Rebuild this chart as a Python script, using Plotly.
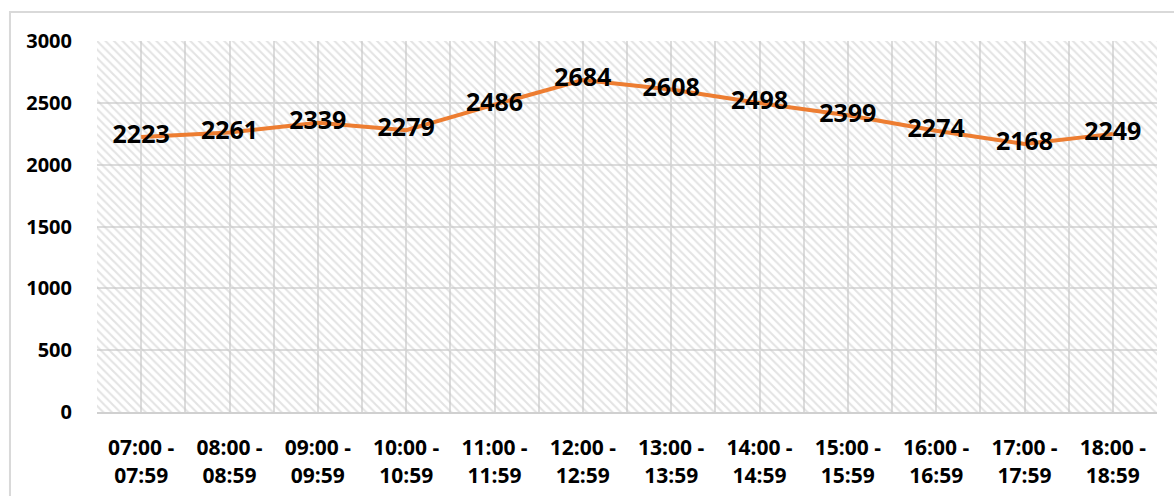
import plotly.graph_objects as go

# Hourly time slots and counts
slots = ["07:00 -<br>07:59", "08:00 -<br>08:59", "09:00 -<br>09:59", "10:00 -<br>10:59",
         "11:00 -<br>11:59", "12:00 -<br>12:59", "13:00 -<br>13:59", "14:00 -<br>14:59",
         "15:00 -<br>15:59", "16:00 -<br>16:59", "17:00 -<br>17:59", "18:00 -<br>18:59"]
counts = [2223, 2261, 2339, 2279, 2486, 2684, 2608, 2498, 2399, 2274, 2168, 2249]
y_ticks = [0, 500, 1000, 1500, 2000, 2500, 3000]

FONT = "Open Sans"
ORANGE = "#ED7D31"
GRID = "#dcdcdc"

xs = list(range(len(slots)))
x_lo, x_hi = -0.5, len(slots) - 0.5
y_lo, y_hi = y_ticks[0], y_ticks[-1]

fig = go.Figure()

# hatched plot-area background
fig.add_trace(go.Scatter(
    x=[x_lo, x_hi, x_hi, x_lo, x_lo],
    y=[y_lo, y_lo, y_hi, y_hi, y_lo],
    mode="none",
    fill="toself",
    fillcolor="rgba(0,0,0,0)",
    fillpattern=dict(shape="\\", fgcolor="#c8c8c8", bgcolor="rgba(0,0,0,0)",
                     size=6, solidity=0.35),
    hoverinfo="skip",
    showlegend=False,
))

# the count line with centred value labels
fig.add_trace(go.Scatter(
    x=xs, y=counts,
    mode="lines+text",
    line=dict(color=ORANGE, width=4),
    text=[str(v) for v in counts],
    textposition="middle center",
    textfont=dict(family=FONT, size=25, color="#000000", weight="bold"),
    showlegend=False,
    cliponaxis=False,
))

fig.update_layout(
    width=1174, height=496,
    margin=dict(l=97, r=17, t=41, b=84),
    paper_bgcolor="white",
    plot_bgcolor="white",
    font=dict(family=FONT, color="#000000"),
    shapes=[dict(type="rect", xref="paper", yref="paper",
                 x0=-0.0821, x1=1.2, y0=-0.4, y1=1.078,
                 line=dict(color="#d9d9d9", width=2), fillcolor="rgba(0,0,0,0)",
                 layer="below")],
)

fig.update_xaxes(
    range=[x_lo, x_hi],
    tickmode="array", tickvals=xs, ticktext=slots,
    tickfont=dict(family=FONT, size=21, weight="bold", color="#000000"),
    showgrid=True, gridcolor=GRID, gridwidth=1.5,
    minor=dict(showgrid=True, gridcolor=GRID, gridwidth=1.5, tick0=-0.5, dtick=1),
    showline=True, linecolor="#d0d0d0", linewidth=2, mirror=False,
    ticks="outside", ticklen=16, tickcolor="rgba(0,0,0,0)",
    zeroline=False, automargin=False,
)

fig.update_yaxes(
    range=[y_lo, y_hi],
    tickmode="array", tickvals=y_ticks, ticktext=[str(v) for v in y_ticks],
    tickfont=dict(family=FONT, size=20, weight="bold", color="#000000"),
    showgrid=True, gridcolor=GRID, gridwidth=1.5,
    ticks="outside", ticklen=20, tickcolor="rgba(0,0,0,0)",
    zeroline=False, showline=False, automargin=False,
)

fig.write_html("out.html")
